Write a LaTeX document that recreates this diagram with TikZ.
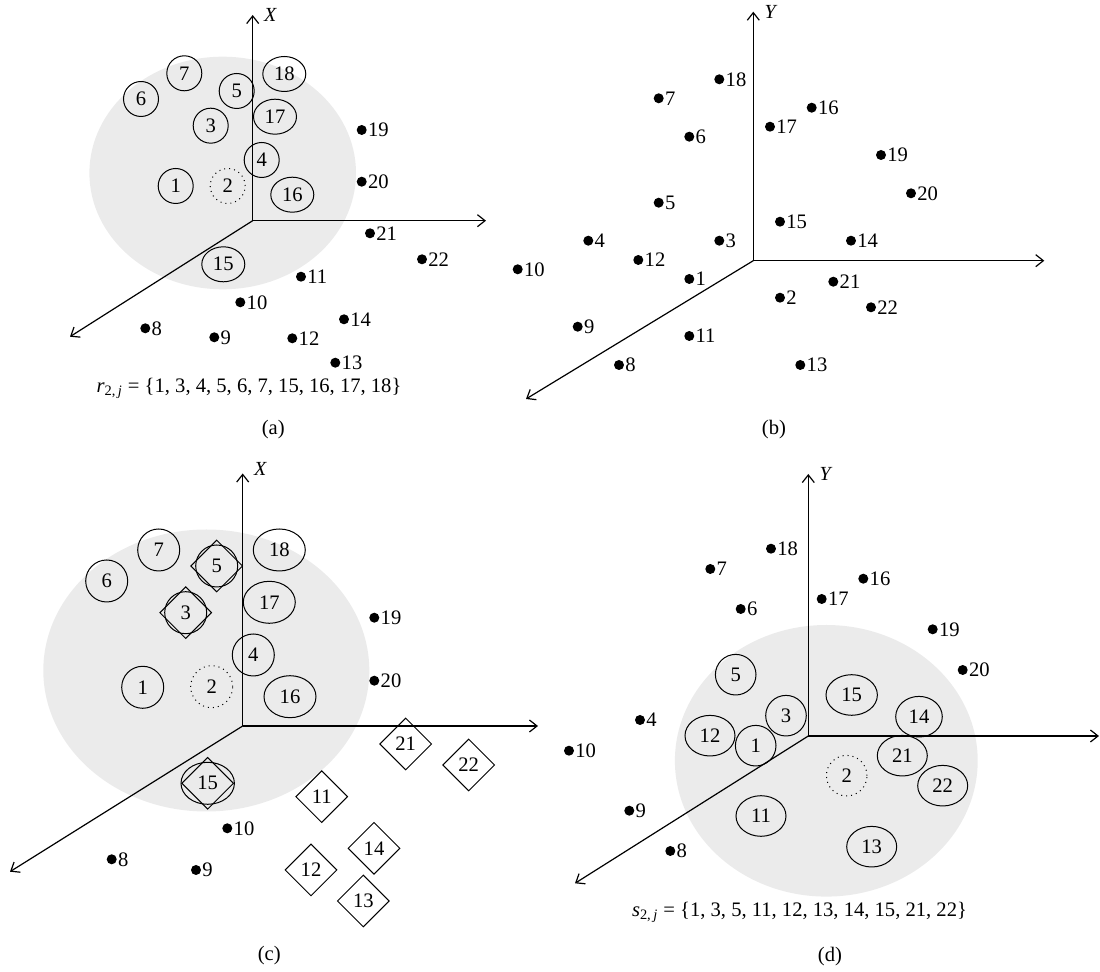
\documentclass[tikz,border=0pt]{standalone}
\usepackage{fontspec}
\setmainfont{Liberation Serif}
\usetikzlibrary{arrows.meta,shapes.geometric}
\tikzset{
  region/.style={fill=black!8},
  axis/.style={-{Straight Barb[length=3.8pt,width=6pt]}, line width=0.6pt},
  mem/.style={draw, ellipse, line width=0.5pt, inner sep=0pt},
  pivot/.style={mem, dotted},
  pick/.style={draw, diamond, line width=0.5pt, inner sep=0pt, minimum width=26pt, minimum height=26pt},
  pt/.style={circle, fill=black, inner sep=0pt, minimum size=5pt, label={[inner sep=0.3pt]right:#1}},
  axlabel/.style={anchor=west, inner sep=0pt, xshift=5.5pt, font=\itshape},
  setlabel/.style={inner sep=0pt}
}

\begin{document}
\begin{tikzpicture}[x=0.5pt, y=-0.5pt, font=\fontsize{10.3}{12.4}\selectfont]
\useasboundingbox (0,0) rectangle (1100,972);

% (a) X view, r set
\begin{scope}[mem/.append style={minimum width=17.5pt, minimum height=17.5pt}, wideoval/.style={minimum width=21.5pt}]
\fill[region] (222.7,173) ellipse [x radius=66.65pt, y radius=58.15pt];
\coordinate (ao) at (252.7,220.7);
\coordinate (av) at (252.7,15);
\coordinate (ah) at (486,220.7);
\coordinate (ad) at (70,336.7);
\draw[axis] (ao) -- (av);
\draw[axis] (ao) -- (ah);
\draw[axis] (ao) -- (ad);
\node[axlabel] (aX) at (av) {X};
\node[mem] (a7) at (184.3,73.3) {7};
\node[mem] (a6) at (141,99) {6};
\node[mem] (a5) at (236.7,91) {5};
\node[mem, wideoval] (a18) at (284.3,74) {18};
\node[mem, wideoval] (a17) at (275,116.7) {17};
\node[mem] (a3) at (210.7,125.7) {3};
\node[mem] (a4) at (261.7,160) {4};
\node[mem] (a1) at (175.7,186) {1};
\node[pivot] (a2) at (227.7,186) {2};
\node[mem, wideoval] (a16) at (292.3,194.7) {16};
\node[mem, wideoval] (a15) at (223.3,264.3) {15};
\node[pt=19] (a19) at (361.7,130) {};
\node[pt=20] (a20) at (361.7,181.7) {};
\node[pt=21] (a21) at (370,233.3) {};
\node[pt=22] (a22) at (422,259.3) {};
\node[pt=11] (a11) at (301,276.7) {};
\node[pt=10] (a10) at (240.3,302.3) {};
\node[pt=14] (a14) at (344,319.3) {};
\node[pt=8] (a8) at (145.3,328.3) {};
\node[pt=9] (a9) at (214.3,337.3) {};
\node[pt=12] (a12) at (292.3,338.3) {};
\node[pt=13] (a13) at (335.3,362.7) {};
\node[setlabel] (aset) at (249,388.3) {{\itshape r}\textsubscript{2,\,{\itshape j}} = \{1, 3, 4, 5, 6, 7, 15, 16, 17, 18\}};
\node (acap) at (273.3,430) {(a)};
\end{scope}

% (b) Y view
\coordinate (bo) at (753.3,260.7);
\coordinate (bv) at (753.3,11.7);
\coordinate (bh) at (1044.3,260.7);
\coordinate (bd) at (526,399);
\draw[axis] (bo) -- (bv);
\draw[axis] (bo) -- (bh);
\draw[axis] (bo) -- (bd);
\node[axlabel] (bY) at (bv) {Y};
\node[pt=18] (b18) at (719.3,79.3) {};
\node[pt=7] (b7) at (658.7,98.3) {};
\node[pt=16] (b16) at (811.7,107.7) {};
\node[pt=17] (b17) at (770,126.7) {};
\node[pt=6] (b6) at (689.3,136.7) {};
\node[pt=19] (b19) at (881,155) {};
\node[pt=20] (b20) at (911,193.3) {};
\node[pt=5] (b5) at (658.7,202.7) {};
\node[pt=15] (b15) at (780,221.7) {};
\node[pt=4] (b4) at (588.3,240.7) {};
\node[pt=3] (b3) at (719.3,240.7) {};
\node[pt=14] (b14) at (851,240.7) {};
\node[pt=12] (b12) at (638.3,260) {};
\node[pt=10] (b10) at (517.7,269.3) {};
\node[pt=1] (b1) at (689.3,279) {};
\node[pt=21] (b21) at (833.3,281.7) {};
\node[pt=2] (b2) at (780,297.7) {};
\node[pt=22] (b22) at (871,307.3) {};
\node[pt=9] (b9) at (577.7,326.7) {};
\node[pt=11] (b11) at (689.3,336) {};
\node[pt=8] (b8) at (619,365) {};
\node[pt=13] (b13) at (800.3,365) {};
\node (bcap) at (774,430) {(b)};

% (c) X view, r set and picked points
\begin{scope}[mem/.append style={minimum width=21pt, minimum height=21pt}, wideoval/.style={minimum width=26pt}]
\fill[region] (206.3,670.5) ellipse [x radius=81.5pt, y radius=70.5pt];
\coordinate (co) at (242.7,726);
\coordinate (cv) at (242.7,473.5);
\coordinate (ch) at (538,726);
\coordinate (cd) at (10,871.7);
\draw[axis] (co) -- (cv);
\draw[axis] (co) -- (ch);
\draw[axis] (co) -- (cd);
\node[axlabel, yshift=2.5pt] (cX) at (cv) {X};
\node[mem] (c7) at (158.7,550) {7};
\node[mem] (c6) at (106.7,581) {6};
\node[mem] (c5) at (216.7,566) {5};
\node[pick] (c5d) at (c5) {};
\node[mem, wideoval] (c18) at (279.3,550) {18};
\node[mem] (c3) at (185.7,612.7) {3};
\node[pick] (c3d) at (c3) {};
\node[mem, wideoval] (c17) at (269.3,602.3) {17};
\node[mem] (c4) at (253.3,655) {4};
\node[mem] (c1) at (142.7,687.3) {1};
\node[pivot] (c2) at (211.7,686.7) {2};
\node[mem, wideoval] (c16) at (290,696.7) {16};
\node[mem, wideoval, minimum width=26.7pt] (c15) at (207.7,783.3) {15};
\node[pick] (c15d) at (c15) {};
\node[pick] (c21) at (405.7,744) {21};
\node[pick] (c22) at (468.7,765) {22};
\node[pick] (c11) at (321.7,796.7) {11};
\node[pick] (c14) at (374,848.3) {14};
\node[pick] (c12) at (311,870) {12};
\node[pick] (c13) at (363.3,901) {13};
\node[pt=19] (c19) at (374.3,617.7) {};
\node[pt=20] (c20) at (374.3,680.7) {};
\node[pt=10] (c10) at (227.3,828.3) {};
\node[pt=8] (c8) at (111.7,859.3) {};
\node[pt=9] (c9) at (196,870) {};
\node (ccap) at (269.3,956) {(c)};
\end{scope}

% (d) Y view, s set
\begin{scope}[mem/.append style={minimum width=20.3pt, minimum height=20.3pt}, wideoval/.style={minimum width=25pt}]
\fill[region] (826.3,760.8) ellipse [x radius=75.7pt, y radius=67.9pt];
\coordinate (do) at (808.3,736);
\coordinate (dv) at (808.3,474);
\coordinate (dh) at (1099,736);
\coordinate (dd) at (575,883.3);
\draw[axis] (do) -- (dv);
\draw[axis] (do) -- (dh);
\draw[axis] (do) -- (dd);
\node[axlabel] (dY) at (dv) {Y};
\node[mem] (d5) at (735.7,674.7) {5};
\node[mem, wideoval, minimum width=25.7pt] (d15) at (851.7,695) {15};
\node[mem] (d3) at (786,715.7) {3};
\node[mem, minimum width=23.3pt] (d14) at (919,716.7) {14};
\node[mem, wideoval] (d12) at (710,735.7) {12};
\node[mem] (d1) at (755.7,745.7) {1};
\node[mem, wideoval] (d21) at (902.3,755.7) {21};
\node[pivot] (d2) at (846.7,775.7) {2};
\node[mem, wideoval] (d22) at (942.7,785.7) {22};
\node[mem, wideoval] (d11) at (761,816) {11};
\node[mem, wideoval] (d13) at (871.7,846.7) {13};
\node[pt=18] (d18) at (771,548.7) {};
\node[pt=7] (d7) at (710.3,569) {};
\node[pt=16] (d16) at (863.3,578.7) {};
\node[pt=17] (d17) at (821.7,599) {};
\node[pt=6] (d6) at (740.7,609) {};
\node[pt=19] (d19) at (932.7,629.3) {};
\node[pt=20] (d20) at (962.7,670) {};
\node[pt=4] (d4) at (640,720) {};
\node[pt=10] (d10) at (569,750.7) {};
\node[pt=9] (d9) at (629.3,810.7) {};
\node[pt=8] (d8) at (670.3,851) {};
\node[setlabel] (dset) at (799.5,912.7) {{\itshape s}\textsubscript{2,\,{\itshape j}} = \{1, 3, 5, 11, 12, 13, 14, 15, 21, 22\}};
\node (dcap) at (830,956.7) {(d)};
\end{scope}
\end{tikzpicture}
\end{document}
